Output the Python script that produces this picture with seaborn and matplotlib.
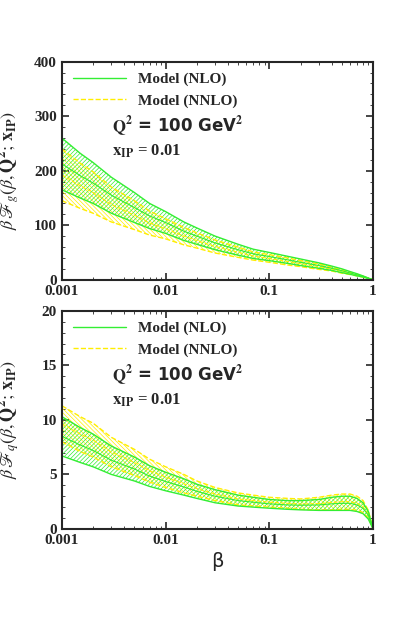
import numpy as np
import matplotlib
matplotlib.use("Agg")
import matplotlib.pyplot as plt
import seaborn as sns
from matplotlib.ticker import FixedLocator, NullFormatter

sns.set_style("ticks")
plt.rcParams['font.family'] = ['Liberation Serif', 'DejaVu Serif']
plt.rcParams['mathtext.fontset'] = 'stix'
plt.rcParams['hatch.linewidth'] = 0.5

beta = [0.001, 0.0015, 0.002, 0.003, 0.005, 0.007, 0.01, 0.015, 0.02, 0.03, 0.05, 0.07,
        0.1, 0.15, 0.2, 0.3, 0.4, 0.5, 0.6, 0.7, 0.8, 0.9, 1.0]

g_nlo_hi = [260, 232, 215, 188, 160, 140, 125, 106, 95, 80, 65, 56, 50, 43, 38, 31, 25, 20, 15, 11, 7, 3, 0]
g_nlo_lo = [165, 150, 140, 122, 105, 94, 85, 72, 65, 55, 45, 39, 35, 30, 26, 21, 17, 13, 10, 7, 5, 2, 0]
g_nnlo_hi = [240, 214, 198, 170, 145, 126, 112, 96, 86, 73, 60, 51, 46, 40, 35, 29, 23, 18, 14, 10, 6.5, 3, 0]
g_nnlo_lo = [145, 131, 122, 106, 92, 82, 75, 64, 58, 49, 41, 36, 32, 27, 24, 19, 16, 12, 9.5, 7, 4.5, 2, 0]

q_nlo_hi = [10.3, 9.3, 8.7, 7.6, 6.6, 5.8, 5.2, 4.6, 4.1, 3.6, 3.1, 2.9, 2.7, 2.6, 2.6, 2.7, 2.9, 3.0, 3.0, 2.8, 2.4, 1.6, 0]
q_nlo_lo = [6.7, 6.1, 5.7, 5.0, 4.4, 3.9, 3.5, 3.1, 2.8, 2.4, 2.1, 2.0, 1.9, 1.8, 1.75, 1.7, 1.7, 1.7, 1.7, 1.6, 1.4, 0.9, 0]
q_nnlo_hi = [11.3, 10.3, 9.7, 8.4, 7.3, 6.4, 5.7, 5.0, 4.4, 3.8, 3.3, 3.1, 2.9, 2.8, 2.75, 2.9, 3.1, 3.2, 3.2, 3.0, 2.6, 1.7, 0]
q_nnlo_lo = [8.0, 7.1, 6.6, 5.7, 4.9, 4.3, 3.8, 3.3, 3.0, 2.6, 2.2, 2.1, 2.0, 1.9, 1.8, 1.75, 1.75, 1.8, 1.8, 1.7, 1.5, 1.0, 0]

GREEN = '#33ee33'
YELLOW = '#ffee00'

fig = plt.figure(figsize=(4.15, 6.23), dpi=100)
ax1 = fig.add_axes([0.149, 0.551, 0.750, 0.350])
ax2 = fig.add_axes([0.149, 0.151, 0.750, 0.350])

def band(ax, hi, lo, color, ls, label, hatch):
    b = np.array(beta); h = np.array(hi); l = np.array(lo)
    ax.fill_between(b, l, h, facecolor='none', edgecolor=color, hatch=hatch, linewidth=0)
    sns.lineplot(x=b, y=h, ax=ax, color=color, lw=1, ls=ls, label=label)
    sns.lineplot(x=b, y=l, ax=ax, color=color, lw=1, ls=ls)
    sns.lineplot(x=b, y=(h + l) / 2, ax=ax, color=color, lw=0.8, ls=ls)

for ax, data, ymax, yt, ylab in [
    (ax1, (g_nnlo_hi, g_nnlo_lo, g_nlo_hi, g_nlo_lo), 400, [0, 100, 200, 300, 400],
     r'$\beta\,\mathscr{F}_g(\beta, \mathbf{Q^2};\, \mathbf{x_{IP}})$'),
    (ax2, (q_nnlo_hi, q_nnlo_lo, q_nlo_hi, q_nlo_lo), 20, [0, 5, 10, 15, 20],
     r'$\beta\,\mathscr{F}_q(\beta, \mathbf{Q^2};\, \mathbf{x_{IP}})$')]:
    band(ax, data[0], data[1], YELLOW, '--', 'Model (NNLO)', '\\\\\\\\\\\\\\\\')
    band(ax, data[2], data[3], GREEN, '-', 'Model (NLO)', '////////')
    ax.set_xscale('log')
    ax.set_xlim(0.001, 1)
    ax.set_ylim(0, ymax)
    ax.set_yticks(yt)
    ax.yaxis.set_minor_locator(FixedLocator(np.arange(0, ymax, ymax / 20)))
    ax.set_xticks([0.001, 0.01, 0.1, 1])
    ax.set_xticklabels(['0.001', '0.01', '0.1', '1'], fontweight='bold', fontsize=11)
    ax.set_yticklabels([str(v) for v in yt], fontweight='bold', fontsize=11)
    ax.xaxis.set_minor_formatter(NullFormatter())
    ax.tick_params(which='both', direction='in', top=True, right=True)
    ax.tick_params(which='major', length=5, width=1.2)
    ax.tick_params(which='minor', length=2.5)
    for s in ax.spines.values():
        s.set_linewidth(1.5)
    ax.set_ylabel(ylab, fontsize=13)
    ax.yaxis.set_label_coords(-0.13, 0.5)
    h, l = ax.get_legend_handles_labels()
    ax.legend(h[::-1], l[::-1], loc='upper left', frameon=False,
              prop={'weight': 'bold', 'size': 11}, handlelength=3.5, borderaxespad=0.3)
    ax.text(0.16, 0.68, r'$\mathbf{Q^2}$ = 100 GeV$^\mathbf{2}$', transform=ax.transAxes,
            fontsize=12, fontweight='bold', family='DejaVu Sans')
    ax.text(0.16, 0.57, r'$\mathbf{x_{IP}}$ = 0.01', transform=ax.transAxes,
            fontsize=12, fontweight='bold')

ax1.set_xlabel('')
ax2.set_xlabel('β', fontsize=14, family='DejaVu Sans')
fig.savefig('out.png', dpi=100)
